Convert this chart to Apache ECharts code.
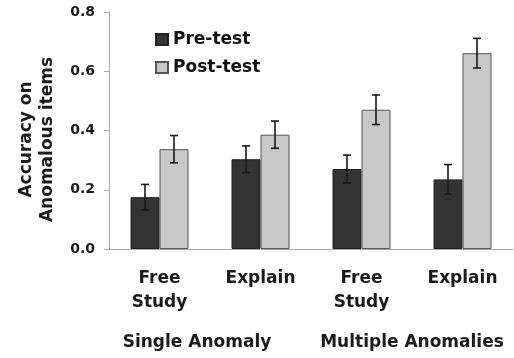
<!DOCTYPE html>
<html>
<head>
<meta charset="utf-8">
<script src="https://cdn.jsdelivr.net/npm/echarts@6/dist/echarts.min.js"></script>
<style>
  html, body { margin: 0; padding: 0; background: #fff; }
  #container { width: 514px; height: 358px; }
</style>
</head>
<body>
<div id="container"></div>
<script>
    let conditions = ['Free\nStudy', 'Explain', 'Free\nStudy', 'Explain'];
    let groups = ['Single Anomaly', 'Multiple Anomalies'];
    let preTest = [0.175, 0.303, 0.27, 0.235];
    let postTest = [0.337, 0.386, 0.47, 0.661];
    let preErr = [0.043, 0.045, 0.047, 0.05];
    let postErr = [0.046, 0.046, 0.05, 0.05];

    let FONT = 'DejaVu Sans';
    let BAR_W = 29;
    let dom = document.getElementById('container');
    let myChart = echarts.init(dom);

    // error bars drawn next to the bar they belong to
    function errorBars(values, errs, shift) {
        return {
            type: 'custom',
            name: 'err',
            z: 5,
            silent: true,
            renderItem: function (params, api) {
                let i = api.value(0);
                let v = api.value(1);
                let e = api.value(2);
                let x = api.coord([i, 0])[0] + shift;
                let hi = api.coord([i, v + e])[1];
                let lo = api.coord([i, v - e])[1];
                let st = { stroke: '#1a1a1a', lineWidth: 1.6 };
                return {
                    type: 'group',
                    children: [
                        { type: 'line', shape: { x1: x, y1: hi, x2: x, y2: lo }, style: st },
                        { type: 'line', shape: { x1: x - 4, y1: hi, x2: x + 4, y2: hi }, style: st },
                        { type: 'line', shape: { x1: x - 4, y1: lo, x2: x + 4, y2: lo }, style: st }
                    ]
                };
            },
            data: values.map(function (v, i) { return [i, v, errs[i]]; })
        };
    }

    let labelFont = { fontFamily: FONT, fontWeight: 'bold', fontSize: 17, color: '#1a1a1a' };

    let option = {
        animation: false,
        grid: { left: 109, right: 1, top: 12, bottom: 109 },
        legend: {
            data: ['Pre-test', 'Post-test'],
            orient: 'vertical',
            left: 150,
            top: 26,
            icon: 'rect',
            itemWidth: 12,
            itemHeight: 11,
            itemGap: 11,
            textStyle: { fontFamily: FONT, fontWeight: 'bold', fontSize: 17, color: '#111' }
        },
        xAxis: [
            {
                type: 'category',
                data: conditions,
                axisLine: { lineStyle: { color: '#aaa', width: 1 } },
                axisTick: { length: 5, lineStyle: { color: '#aaa' } },
                axisLabel: Object.assign({ margin: 18, lineHeight: 24, interval: 0 }, labelFont)
            },
            {
                type: 'category',
                data: groups,
                position: 'bottom',
                gridIndex: 0,
                axisLine: { show: false },
                axisTick: { show: false },
                axisLabel: Object.assign({
                    margin: 85,
                    interval: 0,
                    hideOverlap: false,
                    formatter: function (v, i) {
                        return i === 0 ? '{a|' + v + '}' : v;
                    },
                    rich: {
                        a: Object.assign({ padding: [0, 26, 0, 0] }, labelFont)
                    }
                }, labelFont)
            }
        ],
        yAxis: {
            type: 'value',
            min: 0,
            max: 0.8,
            interval: 0.2,
            name: 'Accuracy on\nAnomalous items',
            nameLocation: 'middle',
            nameRotate: 90,
            nameGap: 51,
            nameTextStyle: Object.assign({ lineHeight: 21, padding: [0, 18, 0, 0] }, labelFont),
            splitLine: { show: false },
            axisLine: { show: true, lineStyle: { color: '#aaa', width: 1 } },
            axisTick: { show: true, length: 5, lineStyle: { color: '#aaa' } },
            axisLabel: {
                margin: 14,
                formatter: function (v) { return v.toFixed(1); },
                fontFamily: FONT, fontWeight: 'bold', fontSize: 14, color: '#1a1a1a'
            }
        },
        series: [
            {
                name: 'Pre-test',
                type: 'bar',
                barWidth: BAR_W,
                barGap: '0%',
                itemStyle: { color: '#333333', borderColor: '#222', borderWidth: 1 },
                data: preTest
            },
            {
                name: 'Post-test',
                type: 'bar',
                barWidth: BAR_W,
                barGap: '0%',
                itemStyle: { color: '#c8c8c8', borderColor: '#555', borderWidth: 1 },
                data: postTest
            },
            errorBars(preTest, preErr, -BAR_W / 2),
            errorBars(postTest, postErr, BAR_W / 2)
        ]
    };
    myChart.setOption(option);
</script>
</body>
</html>
